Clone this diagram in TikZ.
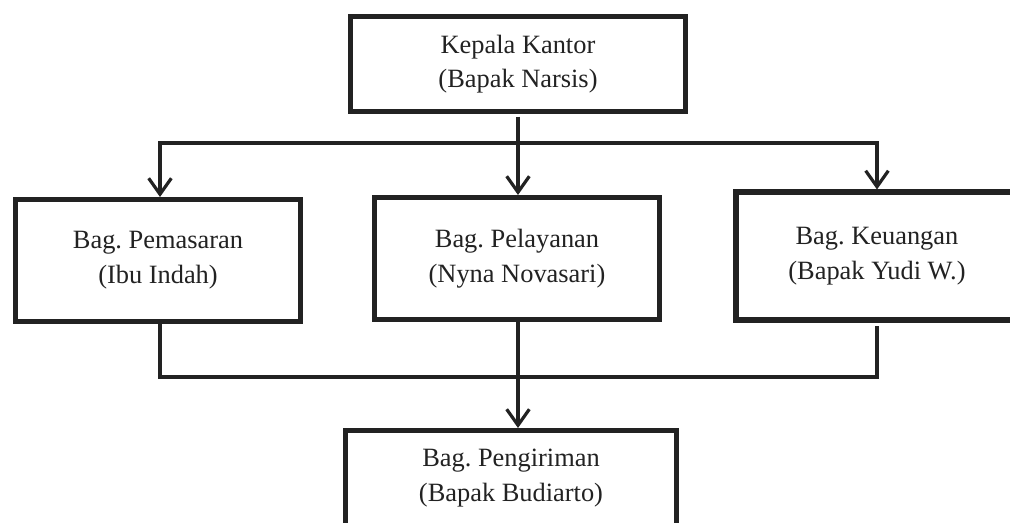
\documentclass[tikz,border=0pt]{standalone}
\usepackage{fontspec}
\setmainfont{Liberation Serif}
\usepackage{tikz}
\usetikzlibrary{positioning}
\usetikzlibrary{calc}
\usetikzlibrary{arrows.meta}
\definecolor{ink}{HTML}{222222}
\frenchspacing
\tikzset{
	box/.style={draw=ink,line width=3.75pt,align=center,text=ink,inner sep=0pt,
		font=\fontsize{19.8}{26}\selectfont},
	link/.style={draw=ink,line width=3pt},
	arr/.style={link,-{Straight Barb[length=12pt,width=17pt,line width=2.4pt]}},
}

\begin{document}
\begin{tikzpicture}[x=0.75pt,y=-0.75pt]

			% page.......................
			\fill [white] (0,0) rectangle (1010,523);
			\useasboundingbox (0,0) rectangle (1010,523);
			\clip (0,0) rectangle (1010,523);

			% head box...................
			\node [box,minimum width=251.25pt,minimum height=71.25pt] (kepala) at (518,64)
				{Kepala Kantor\\(Bapak Narsis)};

			% second row.................
			\node [box,minimum width=213.75pt,minimum height=91.5pt] (pemasaran) at (158,260.5)
				{Bag. Pemasaran\\(Ibu Indah)};
			\node [box,minimum width=213.75pt,minimum height=91.5pt] (pelayanan) at (517,258.5)
				{Bag. Pelayanan\\(Nyna Novasari)};
			\node [box,minimum width=212.25pt,minimum height=96pt,line width=4.5pt] (keuangan) at (877,256.5)
				{Bag. Keuangan\\(Bapak Yudi W.)};

			% bottom box.................
			\node [box,minimum width=248.25pt,minimum height=71.25pt] (pengiriman) at (511,478)
				{Bag. Pengiriman\\(Bapak Budiarto)};

			% split and join points......
			\coordinate (split) at (518,143);
			\coordinate (join) at (518,377);

			% head to second row.........
			\draw [link] ([yshift=-2pt]kepala.south) -- (split);
			\draw [arr] (split) -| ([xshift=1.5pt]pemasaran.north);
			\draw [arr] (split) -- (split |- pelayanan.north);
			\draw [arr] (split) -| (keuangan.north);

			% second row to bottom.......
			\draw [link] ([xshift=1.5pt]pemasaran.south) |- (join);
			\draw [link] ([yshift=-2pt]keuangan.south) |- (join);
			\draw [arr] (pelayanan.south -| join) -- (join |- pengiriman.north);

\end{tikzpicture}
\end{document}
